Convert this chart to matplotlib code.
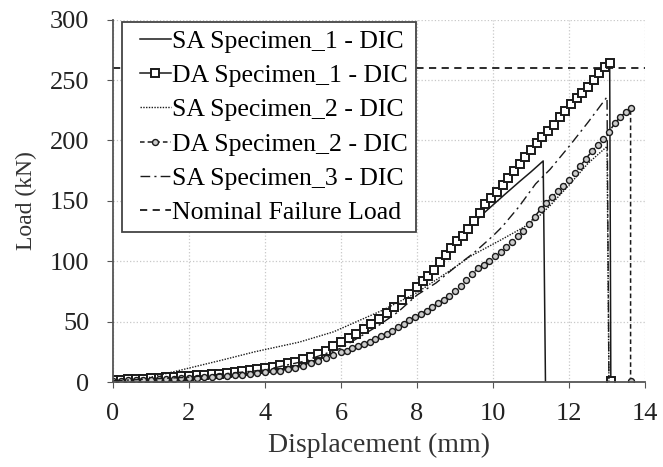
import matplotlib
matplotlib.use('Agg')
import matplotlib.pyplot as plt
from matplotlib.legend_handler import HandlerLine2D

plt.rcParams['font.family'] = ['Liberation Serif', 'DejaVu Serif']

# DA Specimen_1 (squares)
da1_x = [0.0, 0.2, 0.4, 0.6, 0.8, 1.0, 1.2, 1.4, 1.6, 1.8, 2.0, 2.2, 2.4, 2.6, 2.8,
         3.0, 3.2, 3.4, 3.6, 3.8, 4.0, 4.2, 4.4, 4.6, 4.8, 5.0, 5.2, 5.4, 5.6, 5.8,
         6.0, 6.2, 6.4, 6.6, 6.8, 7.0, 7.2, 7.4, 7.6, 7.8, 8.0, 8.15, 8.3, 8.45,
         8.6, 8.75, 8.9, 9.05, 9.2, 9.35, 9.5, 9.65, 9.8, 9.95, 10.1, 10.25, 10.4,
         10.55, 10.7, 10.85, 11.0, 11.15, 11.3, 11.45, 11.6, 11.75, 11.9, 12.05,
         12.2, 12.35, 12.5, 12.65, 12.8, 12.95, 13.07, 13.1]
da1_y = [1.5, 2.0, 2.2, 2.5, 2.8, 3.2, 3.6, 4.0, 4.4, 4.8, 5.0, 5.4, 5.8, 6.3, 6.9,
         7.5, 8.2, 9.0, 9.8, 10.7, 11.7, 12.8, 14.0, 15.4, 16.8, 19.0, 21.0, 23.5,
         26.0, 29.5, 33.0, 36.5, 40.0, 44.0, 48.0, 52.5, 57.0, 62.0, 67.5, 73.0,
         79.0, 83.5, 88.0, 93.0, 99.0, 105.0, 111.0, 116.5, 121.0, 127.0, 133.5,
         140.0, 147.0, 152.0, 157.5, 163.0, 169.0, 175.0, 180.5, 186.0, 192.0,
         198.0, 203.0, 208.0, 213.0, 219.0, 224.5, 230.0, 235.0, 239.5, 244.5,
         250.0, 256.0, 260.5, 264.0, 1.0]

# DA Specimen_2 (circles)
da2_x = [0.0, 0.2, 0.4, 0.6, 0.8, 1.0, 1.2, 1.4, 1.6, 1.8, 2.0, 2.2, 2.4, 2.6, 2.8,
         3.0, 3.2, 3.4, 3.6, 3.8, 4.0, 4.2, 4.4, 4.6, 4.8, 5.0, 5.2, 5.4, 5.6, 5.8,
         6.0, 6.15, 6.3, 6.45, 6.6, 6.75, 6.9, 7.05, 7.2, 7.35, 7.5, 7.65, 7.8,
         7.95, 8.1, 8.25, 8.4, 8.55, 8.7, 8.85, 9.0, 9.15, 9.3, 9.45, 9.6, 9.75,
         9.9, 10.05, 10.2, 10.35, 10.5, 10.65, 10.8, 10.95, 11.1, 11.25, 11.4,
         11.55, 11.7, 11.85, 12.0, 12.15, 12.3, 12.45, 12.6, 12.75, 12.9, 13.05,
         13.2, 13.35, 13.5, 13.62, 13.62]
da2_y = [1.0, 1.2, 1.4, 1.6, 1.8, 2.0, 2.2, 2.5, 2.7, 3.0, 3.3, 3.6, 4.0, 4.4, 4.8,
         5.2, 5.7, 6.2, 6.8, 7.4, 8.0, 8.7, 9.5, 10.4, 11.4, 13.5, 15.5, 17.5, 19.5,
         22.0, 24.5, 26.0, 27.8, 29.6, 31.5, 33.3, 35.5, 37.8, 40.0, 42.6, 45.2,
         48.0, 51.0, 53.6, 56.2, 59.0, 62.0, 65.0, 68.0, 71.0, 75.0, 79.5, 84.5,
         89.5, 94.0, 97.0, 100.5, 104.0, 108.0, 112.0, 116.0, 120.5, 125.0, 131.0,
         137.0, 143.0, 148.0, 153.0, 158.0, 162.5, 167.0, 173.0, 179.0, 185.0,
         191.0, 196.5, 201.5, 207.0, 214.0, 219.5, 223.5, 227.0, 1.0]

# SA Specimen_1 (solid)
sa1_x = [0.0, 1.0, 2.0, 3.0, 4.0, 5.0, 6.0, 7.0, 8.0, 8.5, 9.0, 9.4, 9.8, 10.3,
         10.7, 11.0, 11.32, 11.38]
sa1_y = [1.0, 2.5, 4.5, 7.0, 11.0, 18.0, 32.0, 52.0, 80.0, 97.0, 115.0, 129.0,
         141.0, 155.0, 166.0, 174.0, 183.0, 0.0]

# SA Specimen_2 (dotted)
sa2_x = [0.0, 0.5, 1.0, 1.8, 2.85, 3.73, 4.9, 5.8, 7.1, 8.0, 9.0, 9.4, 10.2,
         10.8, 11.1, 11.5, 12.0, 12.5, 13.0, 13.05]
sa2_y = [1.0, 2.0, 4.0, 10.0, 18.0, 25.0, 33.0, 41.5, 59.5, 74.0, 95.0, 104.0,
         117.5, 128.0, 134.0, 146.0, 163.0, 181.0, 195.0, 0.0]

# SA Specimen_3 (dash-dot)
sa3_x = [0.0, 2.0, 4.0, 5.0, 6.0, 7.0, 7.5, 8.0, 8.5, 9.0, 9.5, 10.0, 10.24,
         10.68, 11.12, 11.5, 12.0, 12.5, 13.0, 13.05]
sa3_y = [1.0, 4.0, 10.0, 17.0, 28.0, 47.0, 58.0, 72.0, 82.0, 95.0, 107.0, 121.0,
         128.5, 145.0, 164.0, 176.0, 195.0, 215.0, 236.0, 0.0]

nominal_x = [0, 14]
nominal_y = [260, 260]

ink = '#1a1a1a'

fig = plt.figure(figsize=(6.63, 4.67), dpi=100)
ax = fig.add_axes([0.1704, 0.182, 0.8025, 0.776])

ax.plot(sa1_x, sa1_y, '-', color=ink, lw=1.1, label='SA Specimen_1 - DIC')
ax.plot(da1_x, da1_y, '-', color=ink, lw=1.1, marker='s', ms=6,
        mfc='white', mec=ink, mew=1.4, label='DA Specimen_1 - DIC')
ax.plot(sa2_x, sa2_y, color=ink, lw=1.0, dashes=(1, 1), label='SA Specimen_2 - DIC')
ax.plot(da2_x, da2_y, color=ink, lw=1.1, dashes=(3, 2), marker='o', ms=4.3,
        mfc='#cccccc', mec=ink, mew=1.0, label='DA Specimen_2 - DIC')
ax.plot(sa3_x, sa3_y, color=ink, lw=1.0, dashes=(7, 3, 1.5, 3),
        label='SA Specimen_3 - DIC')
ax.plot(nominal_x, nominal_y, color=ink, lw=1.3, dashes=(4, 3),
        label='Nominal Failure Load')

ax.set_xlim(0, 14)
ax.set_ylim(0, 300)
ax.set_xticks(range(0, 15, 2))
ax.set_yticks(range(0, 301, 50))
ax.grid(True, color='#c8c8c8', linestyle=':', linewidth=0.9)
ax.set_axisbelow(True)
for s in ['top', 'right']:
    ax.spines[s].set_visible(False)
for s in ['left', 'bottom']:
    ax.spines[s].set_color('#555555')
    ax.spines[s].set_linewidth(1.3)
ax.tick_params(direction='out', length=4, color='#555555', labelsize=19,
               labelcolor='#222222')
ax.tick_params(axis='x', pad=11)
ax.tick_params(axis='y', pad=13)
ax.set_xlabel('Displacement (mm)', fontsize=20, color='#333333', labelpad=6)
ax.set_ylabel('Load (kN)', fontsize=17, color='#333333', labelpad=9)

hmap = {h: HandlerLine2D(xpad=0.4) for h in ax.get_lines()}
leg = ax.legend(loc='upper left', bbox_to_anchor=(0.017, 0.993), borderaxespad=0,
                fontsize=18.5, handlelength=1.6, handletextpad=0.05,
                labelspacing=0.44, borderpad=0.3, fancybox=False, framealpha=1,
                edgecolor='#444444', handler_map=hmap)
leg.get_frame().set_linewidth(1.3)

fig.savefig('out.png', dpi=100)
